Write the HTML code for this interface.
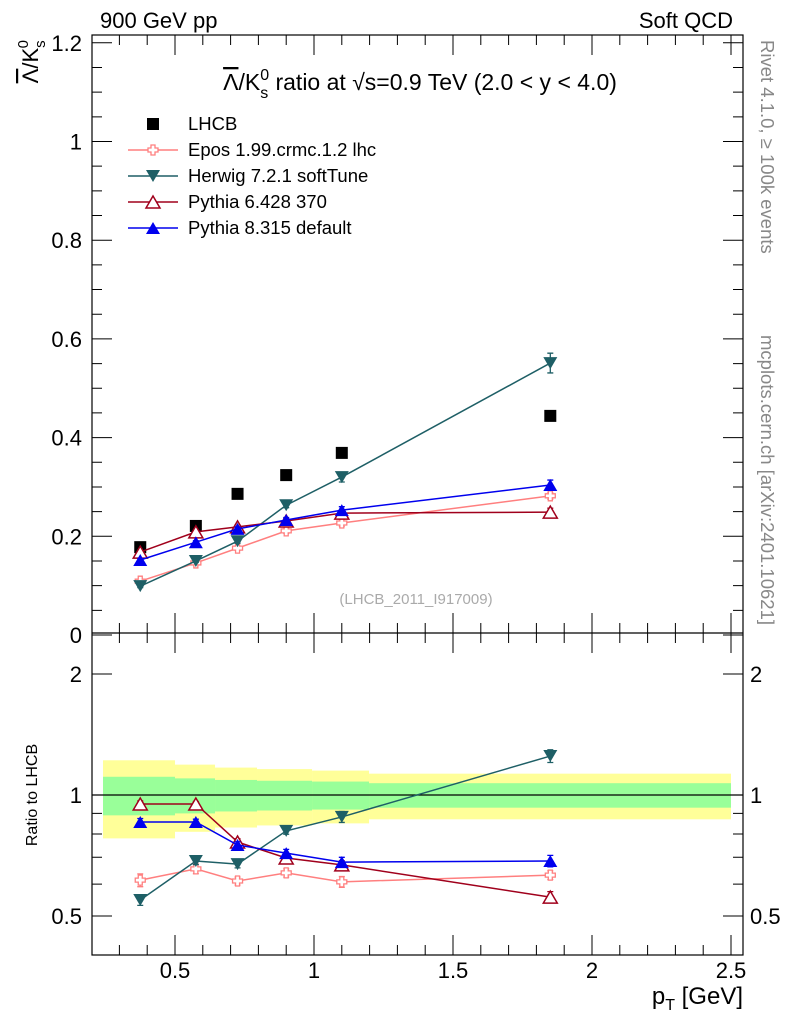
<!DOCTYPE html>
<html><head><meta charset="utf-8"><style>
body{margin:0;background:#fff}
svg{display:block;font-family:"Liberation Sans",sans-serif}
</style></head><body>
<svg id="c" width="786" height="1024" viewBox="0 0 786 1024">
<g id="bands"></g>
<g id="marks"></g>
<g id="axes"></g>
<text x="100" y="28" font-size="22">900 GeV pp</text>
<text x="733" y="28" font-size="22" text-anchor="end">Soft QCD</text>
<text x="420" y="90" font-size="23" text-anchor="middle"><tspan text-decoration="overline">Λ</tspan>/K<tspan font-size="16" dy="8">s</tspan><tspan font-size="16" dx="-8" dy="-18">0</tspan><tspan dy="10"> ratio at √s=0.9 TeV (2.0 &lt; y &lt; 4.0)</tspan></text>
<text transform="translate(38,40) rotate(-90)" font-size="22" text-anchor="end"><tspan text-decoration="overline">Λ</tspan>/K<tspan font-size="15" dy="7">s</tspan><tspan font-size="15" dx="-8" dy="-17">0</tspan></text>
<text transform="translate(37,795) rotate(-90)" font-size="16" text-anchor="middle">Ratio to LHCB</text>
<text x="743" y="1004" font-size="24" text-anchor="end">p<tspan font-size="16" dy="6">T</tspan><tspan dy="-6"> [GeV]</tspan></text>
<text transform="translate(761,40) rotate(90)" font-size="18.5" fill="#888">Rivet 4.1.0, ≥ 100k events</text>
<text transform="translate(761,335) rotate(90)" font-size="18.5" fill="#888">mcplots.cern.ch [arXiv:2401.10621]</text>
<text x="416" y="604" font-size="15" fill="#aaa" text-anchor="middle">(LHCB_2011_I917009)</text>
<g id="legend"></g>
</svg>
<script>
const xVals=[0.375,0.575,0.725,0.9,1.1,1.85];
const lhcb=[0.178,0.221,0.286,0.324,0.369,0.444];
const epos=[0.109,0.146,0.176,0.211,0.227,0.282];
const herwig=[0.099,0.150,0.190,0.263,0.320,0.551];
const pythia6=[0.168,0.209,0.219,0.231,0.247,0.249];
const pythia8=[0.152,0.188,0.215,0.233,0.253,0.304];
const eposErr=[0.004,0.004,0.004,0.005,0.007,0.007];
const herwigErr=[0.003,0.003,0.004,0.005,0.010,0.020];
const pythia6Err=[0.003,0.003,0.004,0.005,0.006,0.008];
const pythia8Err=[0.003,0.003,0.004,0.005,0.007,0.010];
const eposR=[0.614,0.655,0.611,0.640,0.608,0.632];
const herwigR=[0.548,0.685,0.673,0.814,0.882,1.25];
const pythia6R=[0.950,0.950,0.764,0.697,0.670,0.557];
const pythia8R=[0.857,0.857,0.751,0.717,0.681,0.685];
const binEdges=[0.241,0.5,0.644,0.795,0.993,1.198,2.5];
const bandTotal=[0.22,0.19,0.17,0.16,0.15,0.13];
const bandStat=[0.11,0.10,0.09,0.085,0.08,0.07];
const xTicks=[0.5,1,1.5,2,2.5];
const xTickLabels=["0.5","1","1.5","2","2.5"];
const yTicks=[0,0.2,0.4,0.6,0.8,1,1.2];
const yTickLabels=["0","0.2","0.4","0.6","0.8","1","1.2"];
const rTicks=[0.5,1,2];
const rTickLabels=["0.5","1","2"];

const NS="http://www.w3.org/2000/svg";
const L=92,R=743,T=35,M=633,B=955;
const X=v=>36+278*v;
const Y=v=>635-493.5*v;
const YR=v=>795-121*Math.log2(v);
function mk(tag,attrs,parent){const e=document.createElementNS(NS,tag);for(const k in attrs)e.setAttribute(k,attrs[k]);parent.appendChild(e);return e;}
const bands=document.getElementById('bands'),marks=document.getElementById('marks'),axes=document.getElementById('axes'),legend=document.getElementById('legend');

for(let i=0;i<bandTotal.length;i++){
  const x0=X(binEdges[i]),x1=X(binEdges[i+1]);
  const y=mk('rect',{x:x0,y:YR(1+bandTotal[i]),width:x1-x0,height:YR(1-bandTotal[i])-YR(1+bandTotal[i]),fill:'#ffff99'},bands);
  
  
  const g=mk('rect',{x:x0,y:YR(1+bandStat[i]),width:x1-x0,height:YR(1-bandStat[i])-YR(1+bandStat[i]),fill:'#99ff99'},bands);
  
  
}
const one=mk('line',{x1:L,x2:R,y1:YR(1),y2:YR(1),stroke:'#000','stroke-width':1.2},bands);



function marker(type,x,y,color,parent){
  let e;
  if(type==='square')e=mk('rect',{x:x-6,y:y-6,width:12,height:12,fill:'#000'},parent);
  else if(type==='cross')e=mk('path',{d:`M${x-2},${y-5}h4v3h3v4h-3v3h-4v-3h-3v-4h3z`,fill:'#fff',stroke:color,'stroke-width':1.3},parent);
  else if(type==='down')e=mk('path',{d:`M${x-7},${y-6}L${x+7},${y-6}L${x},${y+6}z`,fill:color},parent);
  else if(type==='upOpen')e=mk('path',{d:`M${x-7},${y+6}L${x+7},${y+6}L${x},${y-6}z`,fill:'#fff',stroke:color,'stroke-width':1.5},parent);
  else e=mk('path',{d:`M${x-7},${y+6}L${x+7},${y+6}L${x},${y-6}z`,fill:color},parent);
  return e;
}
function series(name,vals,errs,yf,color,type,rel){
  const g=mk('g',{},marks);
  
  
  if(type!=='square'){
    const pl=mk('polyline',{points:vals.map((v,i)=>X(xVals[i])+','+yf(v)).join(' '),fill:'none',stroke:color,'stroke-width':1.5},g);
    
    
  }
  vals.forEach((v,i)=>{
    if(errs){
      const e=rel?errs[i]/rel[i]*v:errs[i];
      const y1=yf(v+e),y2=yf(Math.max(v-e,0.01)),x=X(xVals[i]);
      mk('path',{d:`M${x},${y1}V${y2}M${x-3},${y1}h6M${x-3},${y2}h6`,stroke:color,'stroke-width':1.3},g);
    }
    const m=marker(type,X(xVals[i]),yf(v),color,g);
    
    
  });
}
series('lhcb-data',lhcb,null,Y,'#000','square');
series('epos-series',epos,eposErr,Y,'#ff7f7f','cross');
series('herwig-series',herwig,herwigErr,Y,'#1e5f66','down');
series('pythia6-series',pythia6,pythia6Err,Y,'#a0001c','upOpen');
series('pythia8-series',pythia8,pythia8Err,Y,'#0000ee','up');
series('epos-ratio',eposR,eposErr,YR,'#ff7f7f','cross',epos);
series('herwig-ratio',herwigR,herwigErr,YR,'#1e5f66','down',herwig);
series('pythia6-ratio',pythia6R,pythia6Err,YR,'#a0001c','upOpen',pythia6);
series('pythia8-ratio',pythia8R,pythia8Err,YR,'#0000ee','up',pythia8);

mk('rect',{x:L,y:T,width:R-L,height:B-T,fill:'none',stroke:'#000','stroke-width':1.2},axes);
mk('line',{x1:L,x2:R,y1:M,y2:M,stroke:'#000','stroke-width':1.2},axes);
for(let v=0.3;v<=2.5001;v+=0.1){
  const x=X(v),major=Math.abs(v*2-Math.round(v*2))<1e-6,len=major?20:10;
  mk('path',{d:`M${x},${B}v${-len}M${x},${M}v${len}M${x},${M}v${-len}M${x},${T}v${len}`,stroke:'#000','stroke-width':1},axes);
}
xTicks.forEach((v,i)=>{const t=mk('text',{x:X(v),y:978,'font-size':22,'text-anchor':'middle'},axes);t.textContent=xTickLabels[i];
  });
for(let k=0;k<=24;k++){const v=k*0.05,y=Y(v);if(y<T)continue;const len=k%4===0?20:10;
  mk('path',{d:`M${L},${y}h${len}M${R},${y}h${-len}`,stroke:'#000','stroke-width':1},axes);}
yTicks.forEach((v,i)=>{const t=mk('text',{x:82,y:Y(v)+8,'font-size':22,'text-anchor':'end'},axes);t.textContent=yTickLabels[i];
  });
[0.5,0.6,0.7,0.8,0.9,1,2].forEach(v=>{const y=YR(v),len=rTicks.includes(v)?20:10;
  mk('path',{d:`M${L},${y}h${len}M${R},${y}h${-len}`,stroke:'#000','stroke-width':1},axes);});
rTicks.forEach((v,i)=>{
  const t=mk('text',{x:82,y:YR(v)+8,'font-size':22,'text-anchor':'end'},axes);t.textContent=rTickLabels[i];
  
  const t2=mk('text',{x:750,y:YR(v)+8,'font-size':22},axes);t2.textContent=rTickLabels[i];
  });
const leg=[['LHCB','square','#000'],['Epos 1.99.crmc.1.2 lhc','cross','#ff7f7f'],['Herwig 7.2.1 softTune','down','#1e5f66'],['Pythia 6.428 370','upOpen','#a0001c'],['Pythia 8.315 default','up','#0000ee']];
leg.forEach((l,i)=>{
  const y=124+i*26;
  const g=mk('g',{},legend);
  
  
  if(l[1]!=='square')mk('line',{x1:128,x2:178,y1:y,y2:y,stroke:l[2],'stroke-width':1.5},g);
  marker(l[1],153,y,l[2],g);
  const t=mk('text',{x:188,y:y+6,'font-size':18.5},g);t.textContent=l[0];
});
</script>
</body></html>
